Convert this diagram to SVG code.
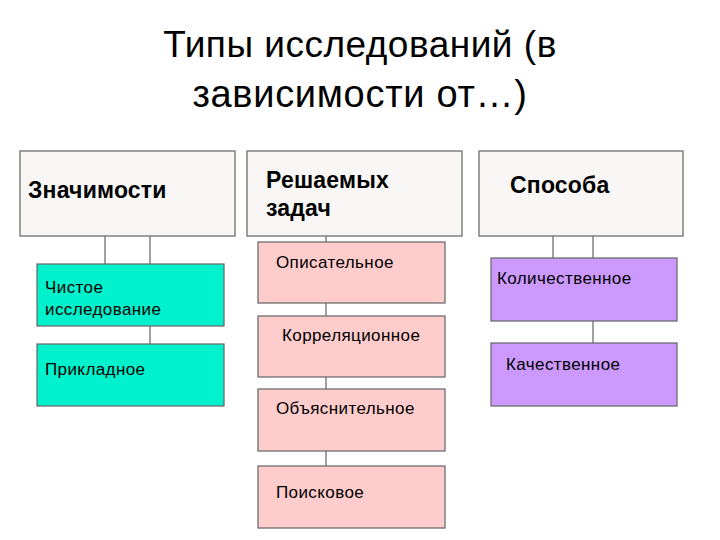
<svg xmlns="http://www.w3.org/2000/svg" width="720" height="540" viewBox="0 0 720 540">
<style>
text{font-family:"Liberation Sans",Arial,sans-serif;fill:#000}
.title{font-size:37px;text-anchor:middle;letter-spacing:0.5px}
.hdr{font-size:23px;font-weight:bold;letter-spacing:0.2px}
.lbl{font-size:17px;letter-spacing:0.4px}
.box{stroke:#6e6e6e;stroke-width:1.3}
.h{fill:#f8f7f5}
.g{fill:#00f2cc}
.p{fill:#ffcccc}
.v{fill:#cc99ff}
.c line{stroke:#6e6e6e;stroke-width:1.3}
</style>
<rect width="720" height="540" fill="#fff"/>
<g id="title">
<text class="title" x="360" y="57">Типы исследований (в</text>
<text class="title" x="360" y="107" style="font-size:38px;letter-spacing:0.7px">зависимости от…)</text>
</g>
<g class="c" id="connectors">
<line x1="105" y1="236" x2="105" y2="264"/>
<line x1="150" y1="236" x2="150" y2="264"/>
<line x1="150" y1="326" x2="150" y2="344"/>
<line x1="326" y1="236" x2="326" y2="242"/>
<line x1="326" y1="303" x2="326" y2="316"/>
<line x1="326" y1="377" x2="326" y2="389"/>
<line x1="326" y1="451" x2="326" y2="466"/>
<line x1="553" y1="236" x2="553" y2="258"/>
<line x1="593" y1="236" x2="593" y2="258"/>
<line x1="593" y1="321" x2="593" y2="343"/>
</g>
<g id="znachimosti">
<rect class="box h" x="20" y="151" width="215" height="85"/>
<text class="hdr" x="28" y="198">Значимости</text>
</g>
<g id="chistoe">
<rect class="box g" x="37" y="264" width="187" height="62"/>
<text class="lbl" x="45" y="293">Чистое</text>
<text class="lbl" x="45" y="315">исследование</text>
</g>
<g id="prikladnoe">
<rect class="box g" x="37" y="344" width="187" height="62"/>
<text class="lbl" x="45" y="375">Прикладное</text>
</g>
<g id="reshaemyh">
<rect class="box h" x="247" y="151" width="215" height="85"/>
<text class="hdr" x="266" y="188">Решаемых</text>
<text class="hdr" x="266" y="216">задач</text>
</g>
<g id="opisatelnoe">
<rect class="box p" x="258" y="242" width="187" height="61"/>
<text class="lbl" x="276" y="268">Описательное</text>
</g>
<g id="korrelyacionnoe">
<rect class="box p" x="258" y="316" width="187" height="61"/>
<text class="lbl" x="282" y="341">Корреляционное</text>
</g>
<g id="obyasnitelnoe">
<rect class="box p" x="258" y="389" width="187" height="62"/>
<text class="lbl" x="276" y="414">Объяснительное</text>
</g>
<g id="poiskovoe">
<rect class="box p" x="258" y="466" width="187" height="62"/>
<text class="lbl" x="276" y="498">Поисковое</text>
</g>
<g id="sposoba">
<rect class="box h" x="479" y="151" width="204" height="85"/>
<text class="hdr" x="510" y="193">Способа</text>
</g>
<g id="kolichestvennoe">
<rect class="box v" x="491" y="258" width="186" height="63"/>
<text class="lbl" x="497" y="284">Количественное</text>
</g>
<g id="kachestvennoe">
<rect class="box v" x="491" y="343" width="186" height="63"/>
<text class="lbl" x="506" y="370">Качественное</text>
</g>
</svg>
